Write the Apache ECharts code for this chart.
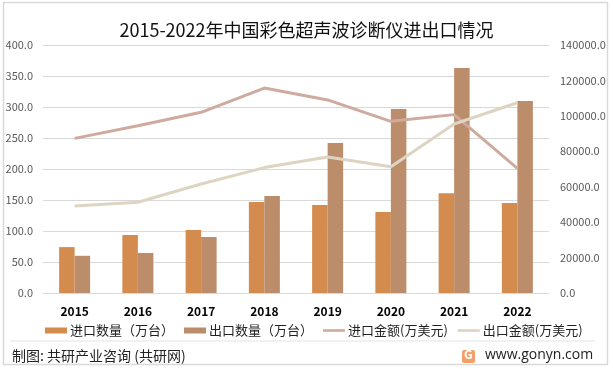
<!DOCTYPE html>
<html><head><meta charset="utf-8">
<script src="https://cdn.jsdelivr.net/npm/echarts@6/dist/echarts.min.js"></script>
<style>html,body{margin:0;padding:0;background:#fff}#c{width:613px;height:369px}</style>
</head><body><div id="c"></div>
<script>
const years = ['2015','2016','2017','2018','2019','2020','2021','2022'];
const importQty = [74, 93.5, 101.6, 146.8, 141.9, 130.6, 161, 145];
const exportQty = [60, 64.5, 90.3, 156.5, 241.9, 296.7, 362.9, 309.7];
const importAmt = [87300, 94400, 102000, 115700, 109000, 96900, 100700, 70400];
const exportAmt = [49100, 51200, 61500, 70800, 76800, 71300, 95400, 107400];
const names = ['进口数量（万台）','出口数量（万台）','进口金额(万美元)','出口金额(万美元)'];
const colors = ['#D38B4E','#BC8D6B','#CFAA9E','#DDD5C2'];
const font = '"Noto Sans CJK SC", "Noto Sans", sans-serif';
const chart = echarts.init(document.getElementById('c'), null, {renderer:'canvas'});
chart.setOption({
  animation:false,
  color: colors,
  title:{text:'2015-2022年中国彩色超声波诊断仪进出口情况', left:'center', top:16,
    textStyle:{fontFamily:font, fontSize:18, fontWeight:'normal', color:'#111'}},
  grid:{left:43, right:64, top:45, bottom:76, containLabel:false},
  legend:{left:40, top:319, itemWidth:22, itemHeight:6, itemGap:10,
    textStyle:{fontFamily:font, fontSize:13, color:'#222', padding:[0,0,0,-2]},
    data:[
      {name:names[0], icon:'rect'},
      {name:names[1], icon:'rect'},
      {name:names[2], icon:'path://M0,0h22v2.6h-22z'},
      {name:names[3], icon:'path://M0,0h22v2.6h-22z'}
    ]},
  xAxis:{type:'category', data:years,
    axisLine:{lineStyle:{color:'#D9D9D9'}}, axisTick:{show:false},
    axisLabel:{fontFamily:font, fontSize:12, fontWeight:'bold', color:'#000', margin:12}},
  yAxis:[
    {type:'value', min:0, max:400, interval:50,
      axisLabel:{formatter:v=>v.toFixed(1), fontFamily:font, fontSize:11, color:'#595959', margin:10},
      splitLine:{lineStyle:{color:'#D9D9D9'}}, axisLine:{show:false}, axisTick:{show:false}},
    {type:'value', min:0, max:140000, interval:20000,
      axisLabel:{formatter:v=>v.toFixed(1), fontFamily:font, fontSize:11, color:'#595959', margin:11},
      splitLine:{show:false}, axisLine:{show:false}, axisTick:{show:false}}
  ],
  series:[
    {name:names[0], type:'bar', data:importQty, barWidth:15.5, barGap:'0%', itemStyle:{color:colors[0]}},
    {name:names[1], type:'bar', data:exportQty, barWidth:15.5, barGap:'0%', itemStyle:{color:colors[1]}},
    {name:names[2], type:'line', yAxisIndex:1, data:importAmt, showSymbol:false, symbol:'none',
      lineStyle:{width:3, color:colors[2]}, itemStyle:{color:colors[2]}},
    {name:names[3], type:'line', yAxisIndex:1, data:exportAmt, showSymbol:false, symbol:'none',
      lineStyle:{width:3, color:colors[3]}, itemStyle:{color:colors[3]}}
  ],
  graphic:[
    {type:'rect', shape:{x:3.5, y:2.5, width:604, height:362}, style:{fill:'none', stroke:'#D9D9D9', lineWidth:1.5}, silent:true, z:-1},
    {type:'line', shape:{x1:10, y1:341, x2:595, y2:341}, style:{stroke:'#E3E3E3', lineWidth:1}},
    {type:'text', left:12, top:349, style:{text:'制图: 共研产业咨询 (共研网)', font:'14px '+font, fill:'#222'}},
    {type:'rect', shape:{x:462, y:350, width:13, height:13, r:2}, style:{fill:'#F2A06A'}},
    {type:'text', left:464, top:348, style:{text:'G', font:'bold 12px '+font, fill:'#fff'}},
    {type:'text', left:485, top:348, style:{text:'www.gonyn.com', font:'14px "Open Sans", "Noto Sans", sans-serif', fill:'#222'}}
  ]
});
</script></body></html>
